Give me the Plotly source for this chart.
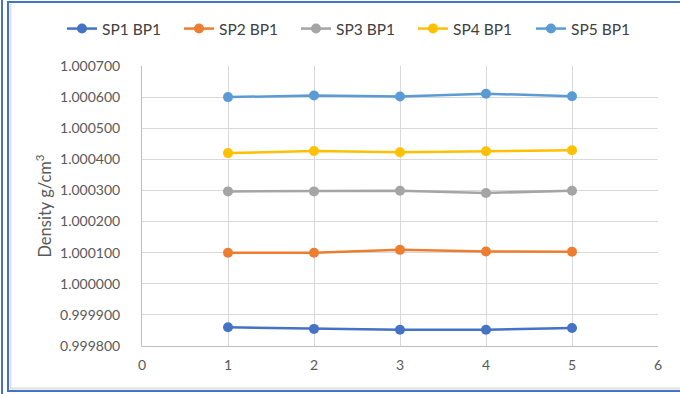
import plotly.graph_objects as go

x_vals = [1, 2, 3, 4, 5]
series_names = ["SP1 BP1", "SP2 BP1", "SP3 BP1", "SP4 BP1", "SP5 BP1"]
sp1 = [0.999860, 0.999855, 0.999852, 0.999852, 0.999858]
sp2 = [1.000100, 1.000100, 1.000109, 1.000104, 1.000103]
sp3 = [1.000297, 1.000297, 1.000299, 1.000292, 1.000299]
sp4 = [1.000420, 1.000427, 1.000423, 1.000426, 1.000429]
sp5 = [1.000600, 1.000605, 1.000602, 1.000611, 1.000603]
colors = ["#4472C4", "#ED7D31", "#A5A5A5", "#FFC000", "#5B9BD5"]
y_tick_vals = [0.9998, 0.9999, 1.0000, 1.0001, 1.0002, 1.0003, 1.0004, 1.0005, 1.0006, 1.0007]
y_tick_text = ["0.999800", "0.999900", "1.000000", "1.000100", "1.000200",
               "1.000300", "1.000400", "1.000500", "1.000600", "1.000700"]

FONT = "Lato"
W, H = 680, 394
L, R, T, B = 142, 22, 66, 48
pw, ph = W - L - R, H - T - B

def px(x):
    return (x - L) / pw

def py(y):
    return 1 - (y - T) / ph

legend_left_px = [62, 179, 296, 413, 531]

fig = go.Figure()
for i, (name, ys, c) in enumerate(zip(series_names, [sp1, sp2, sp3, sp4, sp5], colors)):
    fig.add_trace(go.Scatter(
        x=x_vals, y=ys, name=name, mode="lines+markers",
        line=dict(color=c, width=2.5),
        marker=dict(color=c, size=10),
        legend="legend" if i == 0 else f"legend{i + 1}",
    ))

legends = {}
for i, lx in enumerate(legend_left_px):
    key = "legend" if i == 0 else f"legend{i + 1}"
    legends[key] = dict(orientation="h", x=px(lx), xanchor="left", y=py(29), yanchor="middle",
                        font=dict(family=FONT, size=15.5, color="#404040"), itemwidth=30,
                        bgcolor="rgba(0,0,0,0)", borderwidth=0)

shapes = [
    dict(type="line", xref="paper", yref="paper", x0=px(2), x1=px(2), y0=py(0), y1=py(394),
         line=dict(color="#4472C4", width=2)),
    dict(type="line", xref="paper", yref="paper", x0=px(10.5), x1=px(10.5), y0=py(4), y1=py(389),
         line=dict(color="#E0E0E0", width=2)),
    dict(type="line", xref="paper", yref="paper", x0=px(10), x1=px(690), y0=py(388.5), y1=py(388.5),
         line=dict(color="#E0E0E0", width=2)),
    dict(type="rect", xref="paper", yref="paper", x0=px(8), x1=px(700), y0=py(391), y1=py(2),
         line=dict(color="#4472C4", width=2)),
]

fig.update_layout(
    width=W, height=H,
    margin=dict(l=L, r=R, t=T, b=B, autoexpand=False),
    paper_bgcolor="white", plot_bgcolor="white",
    font=dict(family=FONT, size=14, color="#595959"),
    showlegend=True,
    shapes=shapes,
    xaxis=dict(range=[0, 6], tickvals=[0, 1, 2, 3, 4, 5, 6], showgrid=True, gridcolor="#D9D9D9",
               gridwidth=1, zeroline=False, showline=True, linecolor="#BFBFBF", linewidth=1,
               ticks="", ticklabelstandoff=6, automargin=False,
               tickfont=dict(size=14, color="#595959")),
    yaxis=dict(range=[0.9998, 1.0007], tickvals=y_tick_vals, ticktext=y_tick_text,
               showgrid=True, gridcolor="#D9D9D9", gridwidth=1, zeroline=False,
               showline=True, linecolor="#BFBFBF", linewidth=1, ticks="", ticklabelstandoff=18,
               automargin=False,
               tickfont=dict(size=14, color="#595959"),
               title=dict(text="Density g/cm<sup>3</sup>", standoff=4,
                          font=dict(size=16.5, color="#595959"))),
    **legends,
)

fig.write_html("out.html", config={"displayModeBar": False},
               post_script="document.body.style.margin='0';document.body.style.padding='0';")
